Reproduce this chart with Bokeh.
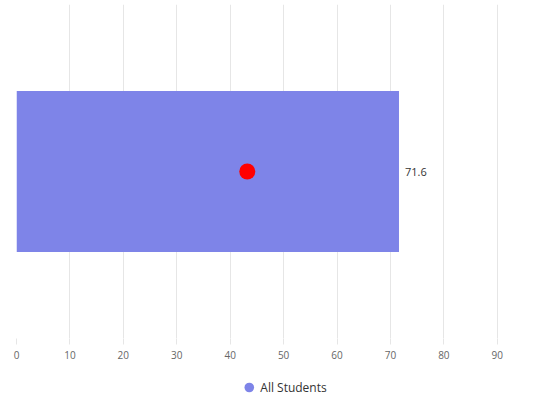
from bokeh.plotting import figure
from bokeh.layouts import column
from bokeh.models import Range1d, FixedTicker, Legend, LegendItem, ColumnDataSource
from bokeh.core.properties import value
from bokeh.embed import file_html
from bokeh.resources import INLINE

categories = ["All Students"]
scores = [71.6]
markers = [43.2]
score_labels = ["71.6"]
x_ticks = [0, 10, 20, 30, 40, 50, 60, 70, 80, 90, 100]
bar_color = "#7e84e8"

src = ColumnDataSource(dict(cat=categories, score=scores, marker=markers, lab=score_labels))

p = figure(width=547, height=374, y_range=categories, x_range=Range1d(0, 99.4),
           output_backend="svg", toolbar_location=None,
           min_border_left=16, min_border_right=0, min_border_top=4, min_border_bottom=36)
p.outline_line_color = None

p.hbar(y="cat", right="score", left=0, height=0.482, source=src,
       fill_color=bar_color, line_color=None)
p.scatter(x="marker", y="cat", source=src, size=16, fill_color="#ff0000", line_color=None)
p.text(x="score", y="cat", text="lab", source=src, x_offset=6, text_baseline="middle",
       text_font=value("Open Sans"), text_font_size="11px", text_color="#333333")

xa = p.xaxis[0]
xa.ticker = FixedTicker(ticks=x_ticks)
xa.axis_line_color = None
xa.major_tick_in = 0
xa.major_tick_out = 6
xa.major_tick_line_color = "#e6e6e6"
xa.minor_tick_line_color = None
xa.major_label_text_font = "Open Sans"
xa.major_label_text_font_size = "10px"
xa.major_label_text_color = "#666666"
xa.major_label_standoff = 6

p.yaxis.visible = False
p.xgrid.grid_line_color = "#e6e6e6"
p.ygrid.grid_line_color = None

# legend strip below the chart
lg = figure(width=547, height=26, x_range=Range1d(0, 1), y_range=Range1d(0, 1),
            output_backend="svg", toolbar_location=None,
            min_border_left=0, min_border_right=0, min_border_top=0, min_border_bottom=0)
lg.outline_line_color = None
lg.axis.visible = False
lg.grid.visible = False
proxy = lg.scatter(x=[-5], y=[-5], size=11, fill_color=bar_color, line_color=None, marker="circle")

legend = Legend(items=[LegendItem(label=categories[0], renderers=[proxy])],
                orientation="horizontal", location="center",
                label_text_font="Open Sans", label_text_font_size="12px",
                label_text_color="#333333", border_line_color=None,
                background_fill_alpha=0,
                glyph_width=24, glyph_height=24, label_standoff=0,
                margin=0, padding=0)
lg.add_layout(legend, "center")

layout = column(p, lg, spacing=0)
open("out.html", "w").write(file_html(layout, INLINE))
